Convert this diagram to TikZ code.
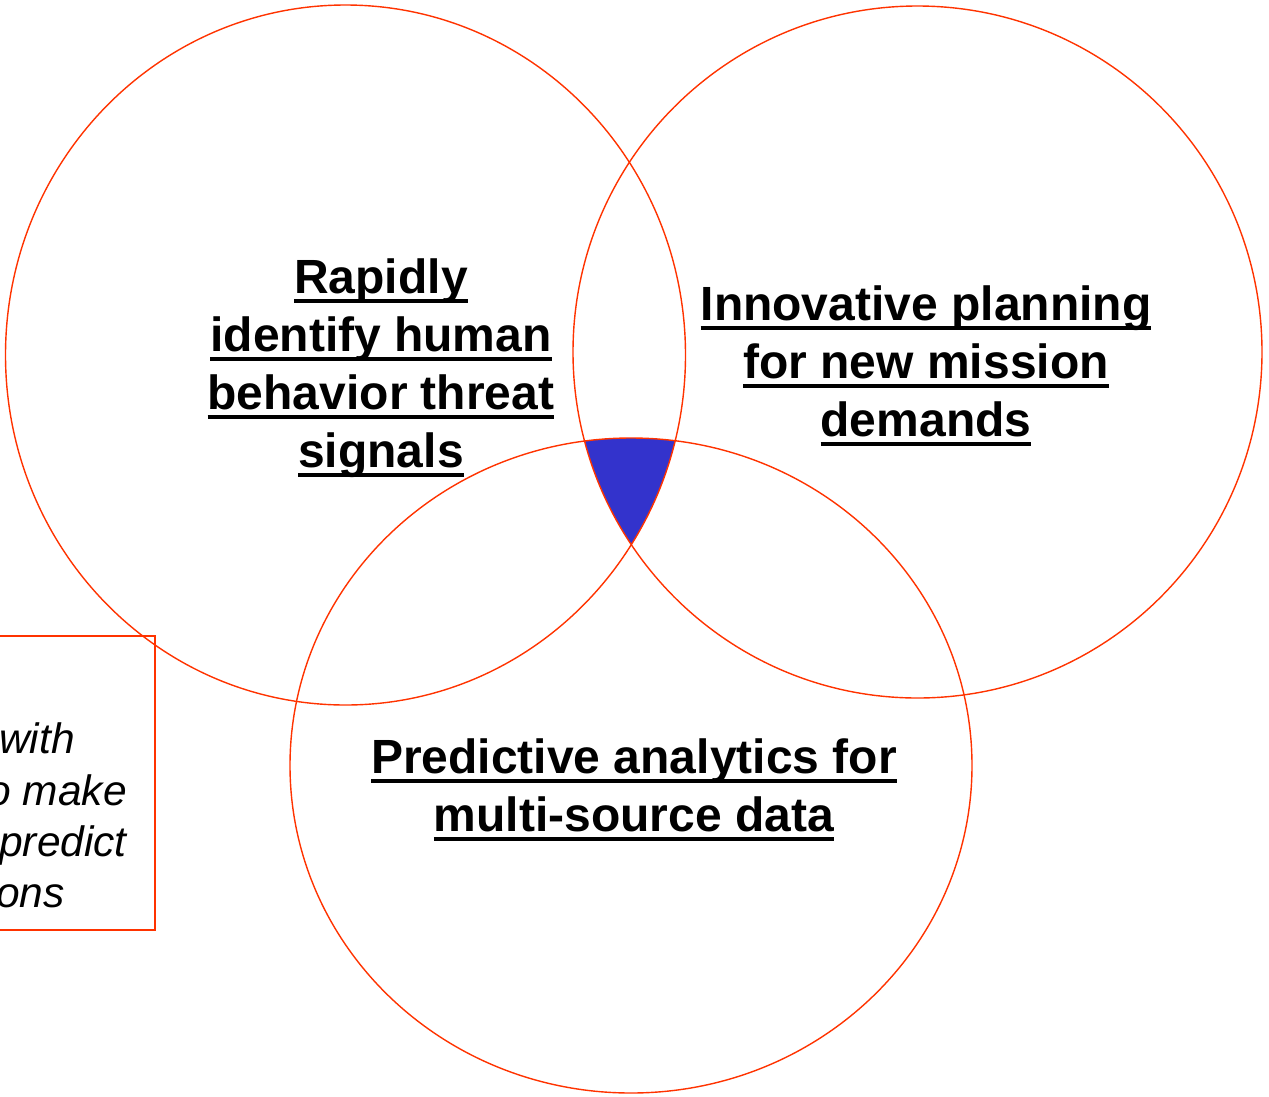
\documentclass[tikz,border=0pt]{standalone}
\usepackage{fontspec}
\setmainfont{Liberation Sans}
\definecolor{ringred}{HTML}{FF3300}
\definecolor{coreblue}{HTML}{3333CC}
\newcommand\ulbar[1]{\setbox0=\hbox{#1}\rlap{\rule[-9pt]{\wd0}{3.5pt}}\box0}

\begin{document}
\begin{tikzpicture}[x=1pt, y=-1pt,
    ring/.style={ringred, line width=1.4pt},
    goal/.style={font=\fontsize{48}{58}\selectfont\bfseries, align=center,
      anchor=north, inner sep=0pt}]
  \useasboundingbox (0,0) rectangle (1269,1096);
  \clip (0,0) rectangle (1269,1096);

  % --- centres of the three circles (1 unit = 1 pixel of the layout) ---
  \coordinate (cl) at (345.5,355);
  \coordinate (cr) at (917.5,352);
  \coordinate (cb) at (631,765.5);

  % --- the core shared by all three ---
  \begin{scope}
    \clip (cl) ellipse [x radius=340pt, y radius=350pt];
    \clip (cr) ellipse [x radius=344.5pt, y radius=346pt];
    \fill[coreblue] (cb) ellipse [x radius=341pt, y radius=327.5pt];
  \end{scope}

  % --- circles ---
  \draw[ring] (cl) ellipse [x radius=340pt, y radius=350pt];
  \draw[ring] (cr) ellipse [x radius=344.5pt, y radius=346pt];
  \draw[ring] (cb) ellipse [x radius=341pt, y radius=327.5pt];

  % --- circle labels ---
  \node[goal] (threat) at (381,259)
    {\ulbar{Rapidly}\\ \ulbar{identify human}\\ \ulbar{behavior threat}\\ \ulbar{signals}};
  \node[goal] (plan) at (926,286)
    {\ulbar{Innovative planning}\\ \ulbar{for new mission}\\ \ulbar{demands}};
  \node[goal] (predict) at (634,739)
    {\ulbar{Predictive analytics for}\\ \ulbar{multi-source data}};

  % --- side note, cut by the left edge ---
  \draw[ringred, line width=2pt] (-10,636) rectangle (155,930);
  \foreach \t/\x/\y in {with/75/753, o make/127/805, predict/127/856, ons/65/907}{
    \node[font=\fontsize{42.5}{50}\selectfont\itshape, anchor=base east, inner sep=0pt]
      (note\y) at (\x,\y) {\t};
  }
\end{tikzpicture}
\end{document}
